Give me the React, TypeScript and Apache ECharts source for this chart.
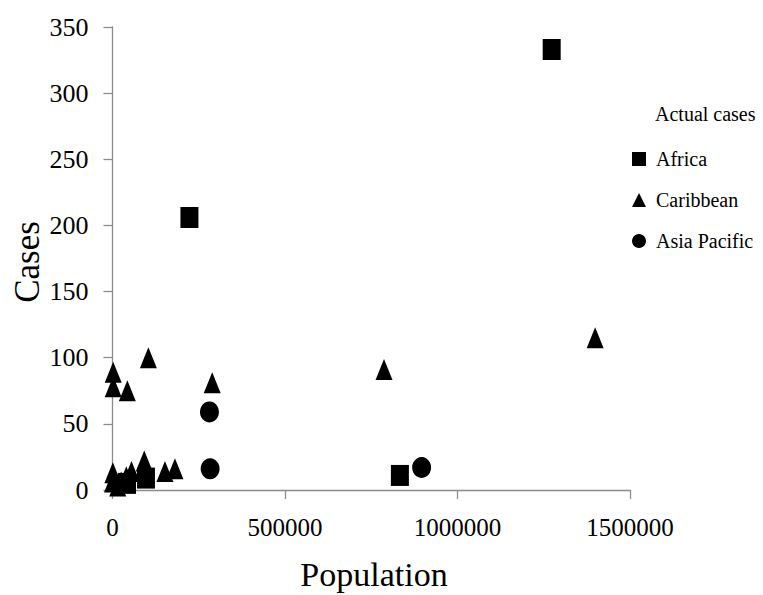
import React, { useEffect, useRef } from "react";
import * as echarts from "echarts";

const africa: [number, number][] = [
  [1273000, 333], [223000, 206], [833000, 11], [97000, 9], [42000, 5],
];
const caribbean: [number, number][] = [
  [1399000, 115], [787000, 91], [289000, 81], [104000, 100], [2000, 89],
  [2000, 78], [43000, 75], [1000, 13], [0, 6], [15000, 3], [40000, 10],
  [55000, 14], [92000, 22], [98000, 13], [152000, 14], [181000, 16], [25000, 6],
];
const asiaPacific: [number, number][] = [
  [281000, 59], [283000, 16], [896000, 17],
];
const seriesNames = ["Africa", "Caribbean", "Asia Pacific"];
const legendTitle = "Actual cases";
const xTitle = "Population";
const yTitle = "Cases";

const FONT = "'Liberation Serif', 'Times New Roman', serif";

export default function App() {
  const ref = useRef<HTMLDivElement>(null);
  useEffect(() => {
    if (!ref.current) return;
    const chart = echarts.init(ref.current, null, { renderer: "svg" });
    const axisGray = "#8c8c8c";
    chart.setOption({
      animation: false,
      backgroundColor: "#ffffff",
      textStyle: { fontFamily: FONT, color: "#000" },
      grid: { left: 112.5, top: 27, width: 517.5, height: 463 },
      xAxis: {
        type: "value",
        min: 0,
        max: 1500000,
        interval: 500000,
        splitLine: { show: false },
        axisLine: { show: true, onZero: false, lineStyle: { color: axisGray, width: 1.3 } },
        axisTick: { show: true, length: 9, lineStyle: { color: axisGray, width: 1.3 } },
        axisLabel: {
          fontFamily: FONT, fontSize: 25, color: "#000", margin: 25,
          formatter: (v: number) => String(v),
        },
      },
      yAxis: {
        type: "value",
        min: 0,
        max: 350,
        interval: 50,
        splitLine: { show: false },
        axisLine: { show: true, onZero: false, lineStyle: { color: axisGray, width: 1.3 } },
        axisTick: { show: true, length: 9, lineStyle: { color: axisGray, width: 1.3 } },
        axisLabel: {
          fontFamily: FONT, fontSize: 26, color: "#000", margin: 24,
          formatter: (v: number) => String(v),
        },
      },
      legend: {
        orient: "vertical",
        left: 627,
        top: 144,
        itemWidth: 14,
        itemHeight: 14,
        itemGap: 21,
        textStyle: { fontFamily: FONT, fontSize: 20, color: "#000", padding: [0, 0, 0, 5] },
        data: [
          { name: seriesNames[0], icon: "rect" },
          { name: seriesNames[1], icon: "triangle" },
          { name: seriesNames[2], icon: "circle" },
        ],
      },
      graphic: [
        {
          type: "text",
          left: 655,
          top: 104,
          style: { text: legendTitle, font: `20px ${FONT}`, fill: "#000" },
        },
        {
          type: "text",
          x: 374,
          y: 574,
          style: { text: xTitle, font: `34px ${FONT}`, fill: "#000", align: "center", verticalAlign: "middle" },
        },
        {
          type: "text",
          x: 27,
          y: 262,
          rotation: Math.PI / 2,
          style: { text: yTitle, font: `35px ${FONT}`, fill: "#000", align: "center", verticalAlign: "middle" },
        },
      ],
      series: [
        {
          name: seriesNames[0],
          type: "scatter",
          symbol: "rect",
          symbolSize: [18, 21],
          itemStyle: { color: "#000", opacity: 1 },
          data: africa,
        },
        {
          name: seriesNames[1],
          type: "scatter",
          symbol: "triangle",
          symbolSize: [17, 21],
          itemStyle: { color: "#000", opacity: 1 },
          data: caribbean,
        },
        {
          name: seriesNames[2],
          type: "scatter",
          symbol: "circle",
          symbolSize: [19, 21],
          itemStyle: { color: "#000", opacity: 1 },
          data: asiaPacific,
        },
      ],
    });
    return () => chart.dispose();
  }, []);
  return (
    <div
      ref={ref}
      style={{ position: "fixed", left: 0, top: 0, width: 763, height: 595, background: "#fff" }}
    />
  );
}
